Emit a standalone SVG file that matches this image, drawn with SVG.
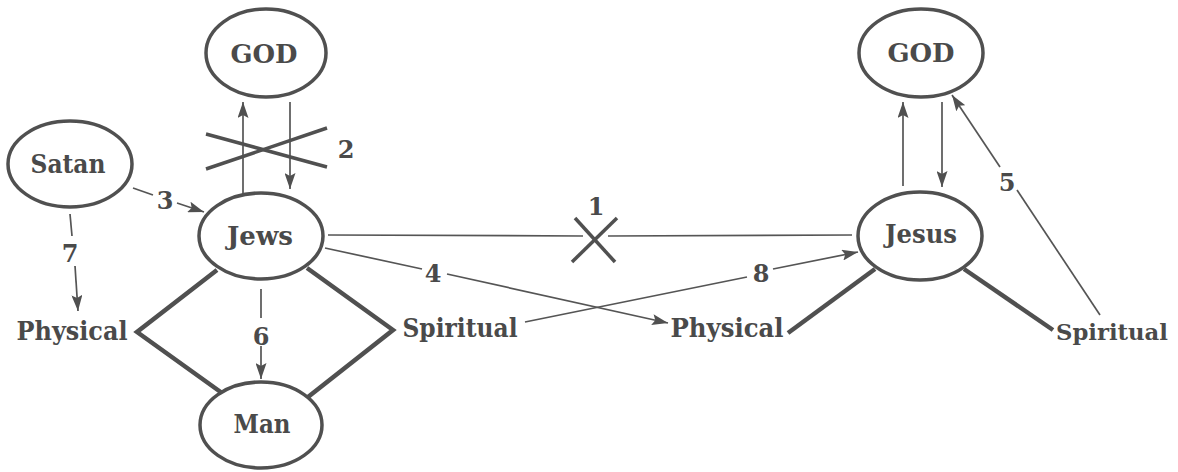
<svg xmlns="http://www.w3.org/2000/svg" width="1178" height="472" viewBox="0 0 1178 472">
<style>
.node ellipse{fill:none;stroke:#505050;stroke-width:3.5}
text{font-family:"DejaVu Serif","Liberation Serif",serif;font-weight:bold;fill:#4a4a4a;text-anchor:middle}
.lbl{font-size:26px}
.num{font-size:24px}
.thin{stroke:#555;stroke-width:1.7;fill:none}
.thick{stroke:#505050;stroke-width:4.5;fill:none;stroke-linejoin:miter}
.cross{stroke:#505050;stroke-width:3.5;fill:none}
</style>
<defs>
<marker id="ah" markerWidth="16" markerHeight="11" refX="16" refY="5.5" orient="auto" markerUnits="userSpaceOnUse">
<path d="M0,0 L16,5.5 L0,11 L3,5.5 z" fill="#505050"/>
</marker>
</defs>
<rect width="1178" height="472" fill="#ffffff"/>

<g id="connectors">
<!-- GOD <-> Jews (left) -->
<line class="thin" x1="243" y1="195" x2="243" y2="102" marker-end="url(#ah)"/>
<line class="thin" x1="290" y1="102" x2="290" y2="189" marker-end="url(#ah)"/>
<line class="cross" x1="206" y1="134" x2="327" y2="167"/>
<line class="cross" x1="206" y1="169" x2="327" y2="128"/>
<text class="num" x="346" y="158">2</text>
<!-- 3 Satan -> Jews -->
<line class="thin" x1="133" y1="188" x2="153" y2="195"/>
<text class="num" x="165" y="209">3</text>
<line class="thin" x1="177" y1="203" x2="204" y2="212" marker-end="url(#ah)"/>
<!-- 7 Satan -> Physical -->
<line class="thin" x1="70" y1="214" x2="72" y2="236"/>
<text class="num" x="70" y="262">7</text>
<line class="thin" x1="75" y1="266" x2="78" y2="311" marker-end="url(#ah)"/>
<!-- diamond -->
<polyline class="thick" points="217,270 137,332 222,393"/>
<polyline class="thick" points="307,268 393,330 308,397"/>
<!-- 6 Jews -> Man -->
<line class="thin" x1="261" y1="289" x2="261" y2="318"/>
<text class="num" x="261" y="345">6</text>
<line class="thin" x1="261" y1="346" x2="261" y2="379" marker-end="url(#ah)"/>
<!-- 1 Jews - Jesus (blocked) -->
<line class="thin" x1="328" y1="235" x2="583" y2="236"/>
<line class="thin" x1="608" y1="236" x2="852" y2="235"/>
<line class="cross" x1="575" y1="218" x2="615" y2="262"/>
<line class="cross" x1="572" y1="262" x2="617" y2="218"/>
<text class="num" x="596" y="215">1</text>
<!-- 4 Jews -> Physical -->
<line class="thin" x1="325" y1="248" x2="422" y2="269"/>
<text class="num" x="433" y="282">4</text>
<line class="thin" x1="447" y1="274" x2="668" y2="323" marker-end="url(#ah)"/>
<!-- 8 Spiritual -> Jesus -->
<line class="thin" x1="525" y1="322" x2="747" y2="277"/>
<text class="num" x="761" y="282">8</text>
<line class="thin" x1="773" y1="269" x2="858" y2="252" marker-end="url(#ah)"/>
<!-- GOD <-> Jesus (right) -->
<line class="thin" x1="903" y1="186" x2="903" y2="102" marker-end="url(#ah)"/>
<line class="thin" x1="942" y1="102" x2="942" y2="187" marker-end="url(#ah)"/>
<!-- 5 Spiritual -> GOD -->
<line class="thin" x1="1100" y1="315" x2="1017" y2="190"/>
<text class="num" x="1007" y="191">5</text>
<line class="thin" x1="1000" y1="167" x2="952" y2="95" marker-end="url(#ah)"/>
<!-- Jesus branches -->
<line class="thick" x1="875" y1="269" x2="788" y2="333"/>
<line class="thick" x1="964" y1="269" x2="1053" y2="330"/>
</g>

<g id="god-left" class="node"><ellipse cx="266" cy="53" rx="60" ry="44"/><text class="lbl" x="264" y="63" textLength="67" lengthAdjust="spacingAndGlyphs">GOD</text></g>
<g id="satan" class="node"><ellipse cx="70" cy="164" rx="62" ry="43"/><text class="lbl" x="68" y="173" textLength="75" lengthAdjust="spacingAndGlyphs">Satan</text></g>
<g id="jews" class="node"><ellipse cx="261" cy="236" rx="62" ry="43"/><text class="lbl" x="260" y="245" textLength="66" lengthAdjust="spacingAndGlyphs">Jews</text></g>
<g id="man" class="node"><ellipse cx="261" cy="425" rx="61" ry="43"/><text class="lbl" x="262" y="433" textLength="57" lengthAdjust="spacingAndGlyphs">Man</text></g>
<g id="god-right" class="node"><ellipse cx="921" cy="53" rx="62" ry="44"/><text class="lbl" x="921" y="62" textLength="67" lengthAdjust="spacingAndGlyphs">GOD</text></g>
<g id="jesus" class="node"><ellipse cx="920" cy="236" rx="62" ry="44"/><text class="lbl" x="921" y="243" textLength="72" lengthAdjust="spacingAndGlyphs">Jesus</text></g>
<g id="physical-left"><text class="lbl" x="72" y="340" textLength="111" lengthAdjust="spacingAndGlyphs">Physical</text></g>
<g id="spiritual-left"><text class="lbl" x="460" y="337" textLength="115" lengthAdjust="spacingAndGlyphs">Spiritual</text></g>
<g id="physical-right"><text class="lbl" x="727" y="337" textLength="113" lengthAdjust="spacingAndGlyphs">Physical</text></g>
<g id="spiritual-right"><text x="1112" y="340" style="font-size:23px" textLength="112" lengthAdjust="spacingAndGlyphs">Spiritual</text></g>
</svg>
